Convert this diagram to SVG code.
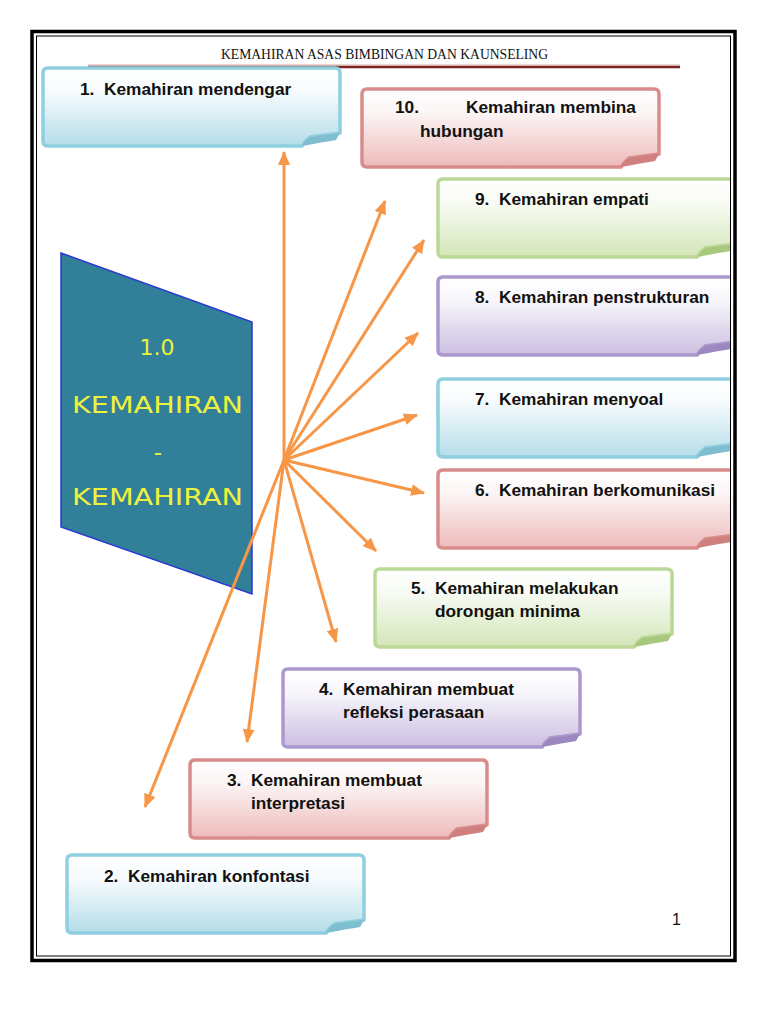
<svg xmlns="http://www.w3.org/2000/svg" xmlns:xlink="http://www.w3.org/1999/xlink" width="768" height="1024" viewBox="0 0 768 1024">
<style>
.t{font-family:"Liberation Sans",Arial,sans-serif;font-weight:bold;font-size:17.3px;fill:#111}
.hdr{font-family:"Liberation Serif","Times New Roman",serif;font-size:14px;fill:#111}
.big{font-family:"DejaVu Sans","Liberation Sans",sans-serif;fill:#eef23c}
.conn line{stroke:#f79646;stroke-width:3;marker-end:url(#ah)}
.blue{fill:url(#gBlue);stroke:#8fcfe0}
.red{fill:url(#gRed);stroke:#d98c8c}
.green{fill:url(#gGreen);stroke:#bcd898}
.purple{fill:url(#gPurple);stroke:#ab98cc}
.fBlue{fill:#7fbdd0}.fRed{fill:#d07f7f}.fGreen{fill:#a8c97d}.fPurple{fill:#9c88bf}
</style>
<defs>
<linearGradient id="gBlue" x1="0" y1="0" x2="0" y2="1"><stop offset="0" stop-color="#ffffff"/><stop offset="0.3" stop-color="#f7fbfd"/><stop offset="1" stop-color="#b4dde8"/></linearGradient>
<linearGradient id="gRed" x1="0" y1="0" x2="0" y2="1"><stop offset="0" stop-color="#ffffff"/><stop offset="0.3" stop-color="#fcf5f5"/><stop offset="1" stop-color="#eebaba"/></linearGradient>
<linearGradient id="gGreen" x1="0" y1="0" x2="0" y2="1"><stop offset="0" stop-color="#ffffff"/><stop offset="0.3" stop-color="#f8fbf4"/><stop offset="1" stop-color="#d3e6b8"/></linearGradient>
<linearGradient id="gPurple" x1="0" y1="0" x2="0" y2="1"><stop offset="0" stop-color="#ffffff"/><stop offset="0.3" stop-color="#f8f6fb"/><stop offset="1" stop-color="#cbbfe0"/></linearGradient>
<path id="box" stroke-width="3.5" stroke-linejoin="round" d="M5,0 H292 Q297,0 297,5 V65 L267,69 Q262,73 259,78 H5 Q0,78 0,73 V5 Q0,0 5,0 Z"/>
<path id="fold" d="M259,78 Q262,72 267,69 L297,65 L293,72 Q280,74 259,78 Z"/>
<clipPath id="pg"><rect x="0" y="0" width="731" height="1024"/></clipPath>
<marker id="ah" markerUnits="userSpaceOnUse" markerWidth="14" markerHeight="12" refX="13" refY="6" orient="auto"><path d="M0,0 L14,6 L0,12 Z" fill="#f79646"/></marker>
</defs>
<rect width="768" height="1024" fill="#ffffff"/>

<g id="header">
<text class="hdr" x="221" y="59" textLength="327" lengthAdjust="spacingAndGlyphs">KEMAHIRAN ASAS BIMBINGAN DAN KAUNSELING</text>
<line x1="88" y1="67" x2="680" y2="67" stroke="#7b2323" stroke-width="2.5"/>
<line x1="88" y1="65" x2="680" y2="65" stroke="#c99090" stroke-width="0.8"/>
</g>

<g id="main">
<polygon points="61,253 252,322 252,594 61,527" fill="#317f99" stroke="#2a3ad0" stroke-width="1.5"/>
<text class="big" x="157" y="355" font-size="22" text-anchor="middle">1.0</text>
<text class="big" x="72" y="413" font-size="23" textLength="171" lengthAdjust="spacingAndGlyphs">KEMAHIRAN</text>
<text class="big" x="158" y="460" font-size="23" text-anchor="middle">-</text>
<text class="big" x="72" y="505" font-size="23" textLength="171" lengthAdjust="spacingAndGlyphs">KEMAHIRAN</text>
</g>

<g id="n1" transform="translate(43,68)"><use xlink:href="#box" class="blue"/><use xlink:href="#fold" class="fBlue"/><text class="t" x="37" y="27">1.</text><text class="t" x="61" y="27">Kemahiran mendengar</text></g>
<g id="n10" transform="translate(362,89)"><use xlink:href="#box" class="red"/><use xlink:href="#fold" class="fRed"/><text class="t" x="33" y="24">10.</text><text class="t" x="104" y="24">Kemahiran membina</text><text class="t" x="58" y="48">hubungan</text></g>
<g clip-path="url(#pg)">
<g id="n9" transform="translate(438,179)"><use xlink:href="#box" class="green"/><use xlink:href="#fold" class="fGreen"/><text class="t" x="37" y="26">9.</text><text class="t" x="61" y="26">Kemahiran empati</text></g>
<g id="n8" transform="translate(438,277)"><use xlink:href="#box" class="purple"/><use xlink:href="#fold" class="fPurple"/><text class="t" x="37" y="26">8.</text><text class="t" x="61" y="26">Kemahiran penstrukturan</text></g>
<g id="n7" transform="translate(438,379)"><use xlink:href="#box" class="blue"/><use xlink:href="#fold" class="fBlue"/><text class="t" x="37" y="26">7.</text><text class="t" x="61" y="26">Kemahiran menyoal</text></g>
<g id="n6" transform="translate(438,470)"><use xlink:href="#box" class="red"/><use xlink:href="#fold" class="fRed"/><text class="t" x="37" y="26">6.</text><text class="t" x="61" y="26">Kemahiran berkomunikasi</text></g>
</g>
<g id="n5" transform="translate(375,569)"><use xlink:href="#box" class="green"/><use xlink:href="#fold" class="fGreen"/><text class="t" x="36" y="25">5.</text><text class="t" x="60" y="25">Kemahiran melakukan</text><text class="t" x="60" y="48">dorongan minima</text></g>
<g id="n4" transform="translate(283,669)"><use xlink:href="#box" class="purple"/><use xlink:href="#fold" class="fPurple"/><text class="t" x="36" y="26">4.</text><text class="t" x="60" y="26">Kemahiran membuat</text><text class="t" x="60" y="49">refleksi perasaan</text></g>
<g id="n3" transform="translate(190,760)"><use xlink:href="#box" class="red"/><use xlink:href="#fold" class="fRed"/><text class="t" x="37" y="26">3.</text><text class="t" x="61" y="26">Kemahiran membuat</text><text class="t" x="61" y="49">interpretasi</text></g>
<g id="n2" transform="translate(67,855)"><use xlink:href="#box" class="blue"/><use xlink:href="#fold" class="fBlue"/><text class="t" x="37" y="27">2.</text><text class="t" x="61" y="27">Kemahiran konfontasi</text></g>

<g id="connectors" class="conn">
<line x1="284" y1="460" x2="284" y2="152"/>
<line x1="284" y1="460" x2="385" y2="201"/>
<line x1="284" y1="460" x2="424" y2="240"/>
<line x1="284" y1="460" x2="418" y2="333"/>
<line x1="284" y1="460" x2="417" y2="415"/>
<line x1="284" y1="460" x2="424" y2="493"/>
<line x1="284" y1="460" x2="376" y2="551"/>
<line x1="284" y1="460" x2="336" y2="642"/>
<line x1="284" y1="460" x2="247" y2="742"/>
<line x1="284" y1="460" x2="145" y2="807"/>
</g>

<g id="page">
<rect x="32" y="31.5" width="703" height="929" fill="none" stroke="#000" stroke-width="3.5"/>
<rect x="36.5" y="36" width="694" height="920" fill="none" stroke="#000" stroke-width="1"/>
<text x="672" y="925" font-family="Liberation Sans,Arial,sans-serif" font-size="16" fill="#111">1</text>
</g>
</svg>
